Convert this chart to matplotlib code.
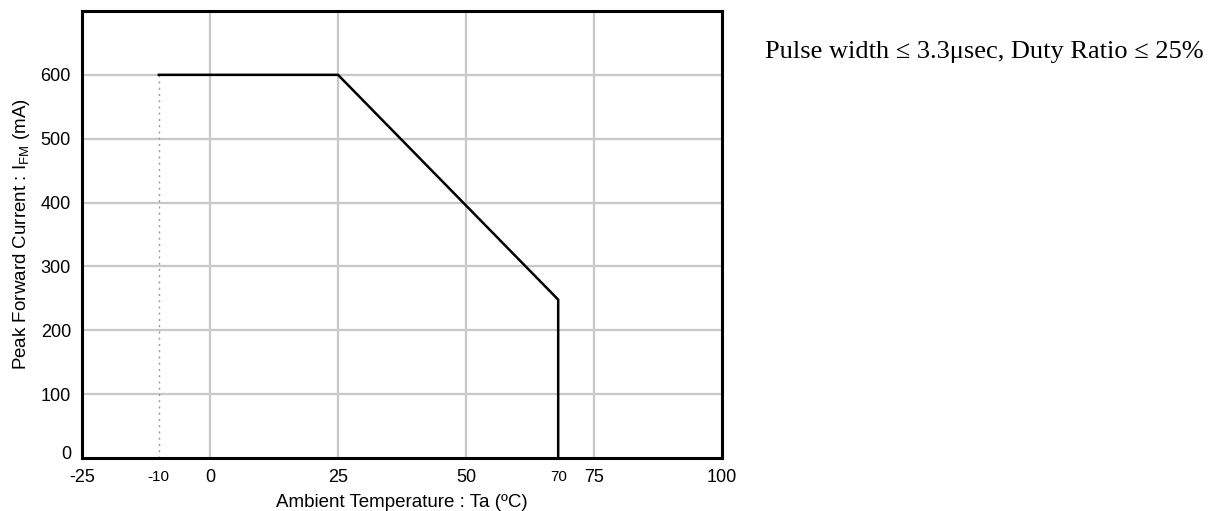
import matplotlib
matplotlib.use("Agg")
import matplotlib.pyplot as plt
import matplotlib.transforms as mtransforms

# Data
temp = [-10, 25, 68, 68]          # Ambient temperature (°C)
current = [600, 600, 248, 0]      # Peak forward current (mA)
ref_x = [-10, -10]                # dotted reference line at low temp limit
ref_y = [0, 600]
x_ticks = [-25, 0, 25, 50, 75, 100]
x_tick_labels = ["-25", "0", "25", "50", "75", "100"]
extra_x = [-10, 68]
extra_labels = ["-10", "70"]
y_ticks = [0, 100, 200, 300, 400, 500, 600]
y_tick_labels = ["0", "100", "200", "300", "400", "500", "600"]
note = "Pulse width \u2264 3.3\u03bcsec, Duty Ratio \u2264 25%"

plt.rcParams['font.family'] = ['Liberation Sans', 'DejaVu Sans']
plt.rcParams['mathtext.fontset'] = 'custom'
plt.rcParams['mathtext.rm'] = 'Liberation Sans'

fig = plt.figure(figsize=(12.17, 5.11), dpi=100)
ax = fig.add_axes([0.0674, 0.1037, 0.5259, 0.8748])
ax.set_xlim(-25, 100)
ax.set_ylim(0, 700)

for gx in [0, 25, 50, 75]:
    ax.axvline(gx, color='#c8c8c8', lw=1.6, zorder=1)
for gy in y_ticks[1:]:
    ax.axhline(gy, color='#c8c8c8', lw=1.6, zorder=1)

ax.plot(ref_x, ref_y, color='#999999', lw=1.0, ls=(0, (1.5, 3)), zorder=2)
ax.plot(temp, current, color='black', lw=1.8, zorder=3, solid_joinstyle='miter')

ax.set_xticks(x_ticks)
ax.set_xticklabels(x_tick_labels, fontsize=13)
ax.set_yticks(y_ticks)
ax.set_yticklabels(y_tick_labels, fontsize=13)
ax.tick_params(axis='x', length=0, pad=8)
ax.tick_params(axis='y', length=0, pad=8)
# raise the "0" label slightly as in the reference
lbl0 = ax.yaxis.get_major_ticks()[0].label1
lbl0.set_transform(lbl0.get_transform() + mtransforms.ScaledTranslation(0, 6 / 100, fig.dpi_scale_trans))
for xv, lab in zip(extra_x, extra_labels):
    ax.text(xv, -0.043, lab, transform=ax.get_xaxis_transform(), ha='center', va='center', fontsize=11)

for s in ax.spines.values():
    s.set_linewidth(2.2)
    s.set_zorder(4)

ax.set_xlabel("Ambient Temperature : Ta (\u00baC)", fontsize=13.5, labelpad=6)
ax.set_ylabel(r"Peak Forward Current : I$_{\mathregular{FM}}$ (mA)", fontsize=13.5, labelpad=6)

fig.text(0.629, 0.898, note, fontsize=19, family=['Liberation Serif', 'DejaVu Serif'], va='center', ha='left')

fig.savefig("out.png", dpi=100)
